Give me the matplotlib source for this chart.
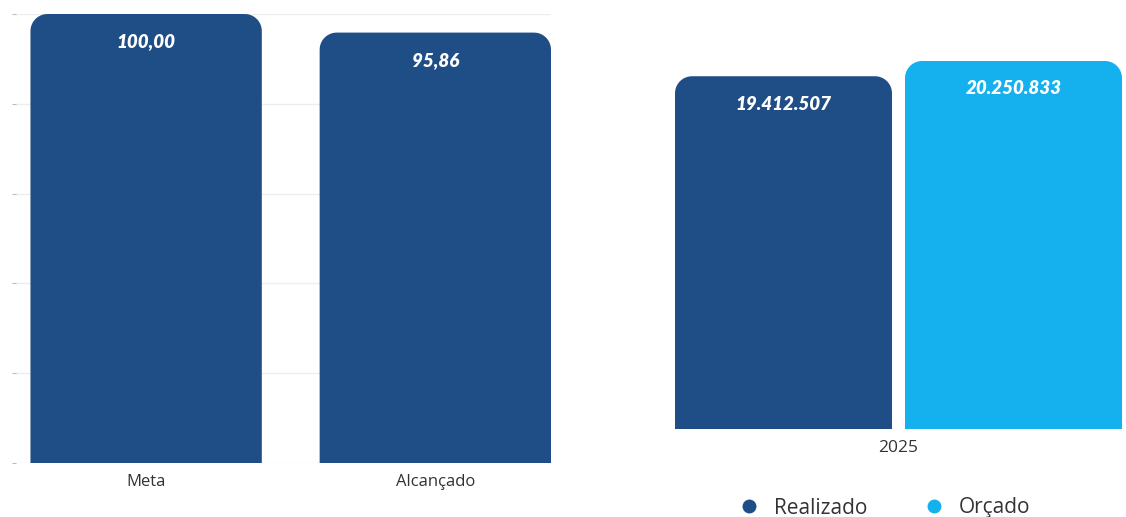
import matplotlib
matplotlib.use("Agg")
import matplotlib.pyplot as plt
import numpy as np
from matplotlib.patches import PathPatch
from matplotlib.path import Path
from matplotlib.lines import Line2D

# ---- data ----
left_categories = ["Meta", "Alcançado"]
left_values = [100.00, 95.86]
left_labels = ["100,00", "95,86"]

right_series = ["Realizado", "Orçado"]
right_values = [19412507, 20250833]
right_labels = ["19.412.507", "20.250.833"]
right_category = "2025"

DARK = "#1F4E87"
LIGHT = "#14B1EE"
FONT = "Open Sans"
VALUE_FONT = ["Lato", "DejaVu Sans"]

plt.rcParams["font.family"] = [FONT, "DejaVu Sans"]

W, H = 1126, 517
fig = plt.figure(figsize=(W / 100, H / 100), dpi=100)


def px_axes(x0, y0, x1, y1):
    return fig.add_axes([x0 / W, 1 - y1 / H, (x1 - x0) / W, (y1 - y0) / H])


def round_top(ax, bars, rpx):
    """Replace each bar by the same rectangle with rounded top corners."""
    fig.canvas.draw()
    bb = ax.get_window_extent()
    x0, x1 = ax.get_xlim()
    y0, y1 = ax.get_ylim()
    rx = rpx * (x1 - x0) / bb.width
    ry = rpx * (y1 - y0) / bb.height
    t = np.linspace(0, np.pi / 2, 12)
    for b in bars:
        x, y, w, h = b.get_x(), b.get_y(), b.get_width(), b.get_height()
        fc = b.get_facecolor()
        b.set_visible(False)
        top = y + h
        pts = [(x, y), (x + w, y), (x + w, top - ry)]
        pts += [(x + w - rx + rx * np.cos(a), top - ry + ry * np.sin(a)) for a in t]
        pts += [(x + rx - rx * np.sin(a), top - ry + ry * np.cos(a)) for a in t]
        pts += [(x, y)]
        ax.add_patch(PathPatch(Path(pts, closed=True), fc=fc, ec="none", zorder=2))


# ---- left chart ----
axl = px_axes(16, 14, 551, 463)
xl = list(range(len(left_categories)))
bl = axl.bar(xl, left_values, width=0.8, color=DARK, zorder=2)
axl.set_xlim(-0.45, 1.4)
axl.set_ylim(0, 100)
axl.set_yticks([0, 20, 40, 60, 80, 100])
axl.set_yticklabels([])
axl.tick_params(axis="y", length=3, color="#BBBBBB", width=0.8)
axl.yaxis.grid(True, color="#EDEDED", linewidth=1, zorder=0)
axl.set_axisbelow(True)
axl.set_xticks(xl)
axl.set_xticklabels(left_categories, fontsize=12, color="#333333")
axl.tick_params(axis="x", length=0, pad=8)
for s in axl.spines.values():
    s.set_visible(False)
round_top(axl, bl, 17)
for x, v, t in zip(xl, left_values, left_labels):
    axl.annotate(t, (x, v), xytext=(0, -20), textcoords="offset points",
                 ha="center", va="center", color="white", fontsize=13.5,
                 family=VALUE_FONT, fontweight="heavy", fontstyle="italic",
                 zorder=5)

# ---- right chart ----
axr = px_axes(675, 61, 1122, 429)
xr = [0, 1]
colors = [DARK, LIGHT]
br = axr.bar(xr, right_values, width=217 / 230, color=colors, zorder=2)
axr.set_xlim(-108.5 / 230, 1 + 108.5 / 230)
axr.set_ylim(0, max(right_values))
axr.set_yticks([])
axr.set_xticks([0.5])
axr.set_xticklabels([right_category], fontsize=12.5, color="#333333")
axr.tick_params(axis="x", length=0, pad=8)
for s in axr.spines.values():
    s.set_visible(False)
round_top(axr, br, 17)
for x, v, t in zip(xr, right_values, right_labels):
    axr.annotate(t, (x, v), xytext=(0, -20), textcoords="offset points",
                 ha="center", va="center", color="white", fontsize=13.5,
                 family=VALUE_FONT, fontweight="heavy", fontstyle="italic",
                 zorder=5, annotation_clip=False)

handles = [Line2D([0], [0], marker="o", linestyle="none", markersize=9,
                  markerfacecolor=c, markeredgecolor=c) for c in colors]
fig.legend(handles, right_series, loc="center", ncol=2, frameon=False,
           bbox_to_anchor=(879 / W, 9 / H), fontsize=15, labelcolor="#333333",
           handletextpad=0.2, columnspacing=2.2)

fig.savefig("out.png", dpi=100)
